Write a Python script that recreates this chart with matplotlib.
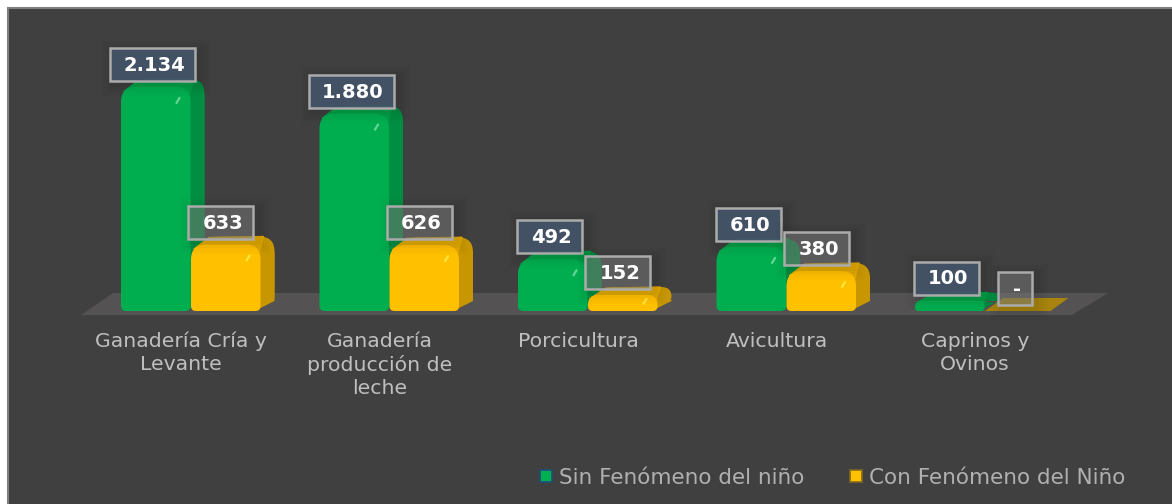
# Grouped pseudo-3D bars, Sin / Con Fenomeno del nino
import matplotlib
matplotlib.use("Agg")
import matplotlib.pyplot as plt
from matplotlib.lines import Line2D
from matplotlib.path import Path
from matplotlib.patches import PathPatch, Polygon, Rectangle

plt.rcParams["font.family"] = "DejaVu Sans"

categories = ["Ganadería Cría y\nLevante", "Ganadería\nproducción de\nleche",
              "Porcicultura", "Avicultura", "Caprinos y\nOvinos"]
sin_fenomeno = [2134, 1880, 492, 610, 100]
con_fenomeno = [633, 626, 152, 380, 0]
series_names = ["Sin Fenómeno del niño", "Con Fenómeno del Niño"]

W, H = 1172, 504
base_px = 311
px_per_unit = 0.105
group_px = 198.5
sx = 1 / group_px
sy = 1 / px_per_unit

GREEN = dict(front="#00AE50", side="#008F42", top="#00A048", spot="#7FE0A8")
YELLOW = dict(front="#FFC000", side="#C79600", top="#E2A900", spot="#FFF04A")

fig = plt.figure(figsize=(W / 100, H / 100), dpi=100, facecolor="white")
fig.add_artist(Rectangle((8 / W, -0.01), 1.02, (H - 8) / H + 0.01, transform=fig.transFigure,
                         facecolor="#404040", edgecolor="#7F7F7F", linewidth=1.5, zorder=-1))

ax = fig.add_axes([0, (H - base_px) / H, 1, base_px / H])
ax.patch.set_visible(False)
ax.set_xlim(-191 * sx, (W - 191) * sx)
ax.set_ylim(0, base_px * sy)
for s in ax.spines.values():
    s.set_visible(False)
ax.get_yaxis().set_visible(False)


def round_box(x0, x1, y0, y1, rt, rb):
    # x in category units, y in value units, radii in pixels
    rxt, ryt = rt * sx, rt * sy
    rxb, ryb = rb * sx, rb * sy
    verts = [(x0 + rxb, y0), (x1 - rxb, y0), (x1, y0), (x1, y0 + ryb),
             (x1, y1 - ryt), (x1, y1), (x1 - rxt, y1),
             (x0 + rxt, y1), (x0, y1), (x0, y1 - ryt),
             (x0, y0 + ryb), (x0, y0), (x0 + rxb, y0), (x0 + rxb, y0)]
    codes = [Path.MOVETO, Path.LINETO, Path.CURVE3, Path.CURVE3,
             Path.LINETO, Path.CURVE3, Path.CURVE3,
             Path.LINETO, Path.CURVE3, Path.CURVE3,
             Path.LINETO, Path.CURVE3, Path.CURVE3, Path.CLOSEPOLY]
    return Path(verts, codes)


def draw_bar(x0, value, colors, z):
    width = 69.5 * sx
    dx, dy = 15 * sx, 10 * sy
    x1 = x0 + width
    if value == 0:
        ax.add_patch(Polygon([(x0, 0), (x1 - 4 * sx, 0), (x1 + 14 * sx, 13 * sy), (x0 + 18 * sx, 13 * sy)],
                             facecolor="#A8840F", edgecolor="none", clip_on=False, zorder=z))
        return
    h_px = value * px_per_unit
    rt = min(15, h_px * 0.6)
    rb = min(5, h_px * 0.3)
    top = value + 8 * sy
    # back silhouette, then the side and top joining it to the front face
    ax.add_patch(PathPatch(round_box(x0 + dx, x1 + dx - 1 * sx, dy, top, rt, rb),
                           facecolor=colors["side"], edgecolor="none", clip_on=False, zorder=z))
    ax.add_patch(Polygon([(x1 - 6 * sx, 0), (x1 + dx - 1 * sx, dy), (x1 + dx - 1 * sx, value - rt * 0.5 * sy),
                          (x1 - 6 * sx, value)],
                         facecolor=colors["side"], edgecolor="none", clip_on=False, zorder=z))
    ax.add_patch(Polygon([(x0 + 3 * sx, value - rt * 0.3 * sy), (x0 + dx + 3 * sx, top - 1 * sy),
                          (x1 + dx - 12 * sx, top), (x1 - 1 * sx, value - rt * 0.5 * sy)],
                         facecolor=colors["top"], edgecolor=colors["top"], linewidth=1,
                         joinstyle="round", clip_on=False, zorder=z))
    ax.add_patch(PathPatch(round_box(x0, x1, 0, value, rt, rb),
                           facecolor=colors["front"], edgecolor="none", clip_on=False, zorder=z))
    if value > 120:
        sy0 = value - min(16, h_px * 0.55) * sy
        ax.plot([x1 - 14 * sx, x1 - 11 * sx], [sy0, sy0 + 5 * sy], color=colors["spot"],
                lw=1.6, alpha=0.8, solid_capstyle="round", zorder=z, clip_on=False)


def draw_label(center, value, box_fc, box_alpha, z):
    text = "-" if value == 0 else f"{value:,}".replace(",", ".")
    w_px = {1: 34, 3: 65, 5: 85}[len(text)]
    x0 = center - w_px / 2 * sx
    y0 = value + 6 * sy
    h = 33 * sy
    # soft shadow
    for grow, a in [(12, 0.015), (9, 0.02), (6, 0.025), (3, 0.03)]:
        ax.add_patch(Rectangle((x0 - grow * sx + 4 * sx, y0 - grow * sy - 3 * sy),
                               (w_px + 2 * grow) * sx, h + 2 * grow * sy, facecolor="black",
                               edgecolor="none", alpha=a, clip_on=False, zorder=z))
    ax.add_patch(Rectangle((x0, y0), w_px * sx, h, facecolor=box_fc, alpha=box_alpha,
                           edgecolor="none", clip_on=False, zorder=z + 0.1))
    ax.add_patch(Rectangle((x0, y0), w_px * sx, h, facecolor="none", edgecolor="#ABABAB",
                           linewidth=1.8, clip_on=False, zorder=z + 0.2))
    ax.text(x0 + (w_px / 2 + 2) * sx, y0 + h / 2 - 1 * sy, text, color="white", fontsize=14, fontweight="bold",
            ha="center", va="center", clip_on=False, zorder=z + 0.3)


# floor
ax.add_patch(Polygon([(-191 * sx + 81 * sx, -4 * sy), (-191 * sx + 1072 * sx, -4 * sy),
                      (-191 * sx + 1108 * sx, 18 * sy), (-191 * sx + 113 * sx, 18 * sy)],
                     facecolor="#545252", edgecolor="none", clip_on=False, zorder=1))

for i in range(len(categories)):
    draw_bar(i - 70 * sx, sin_fenomeno[i], GREEN, 2 + i * 0.01)
    draw_bar(i, con_fenomeno[i], YELLOW, 3 + i * 0.01)

for i in range(len(categories)):
    draw_label(i - 38.5 * sx, sin_fenomeno[i], "#44546A", 0.92, 4)
    draw_label(i + 30 * sx, con_fenomeno[i], "#7F7F7F", 0.5, 5)

ax.set_xticks([i - 10 * sx for i in range(len(categories))])
ax.set_xticklabels(categories, color="#BFBFBF", fontsize=14.7, linespacing=1.27, va="top")
ax.tick_params(axis="x", length=0, pad=15)

handles = [Line2D([], [], linestyle="none", marker="s", markersize=9, markerfacecolor="#00B050",
                  markeredgecolor="#1F4E79", markeredgewidth=1.2),
           Line2D([], [], linestyle="none", marker="s", markersize=9, markerfacecolor="#FFC000",
                  markeredgecolor="#7F6A20", markeredgewidth=1.2)]
ax.legend(handles, series_names, loc="center right", bbox_to_anchor=(1125 / W, (H - 478) / H),
          bbox_transform=fig.transFigure, ncol=2, frameon=False, fontsize=15.5, labelcolor="#B0B0B0",
          handlelength=1, handletextpad=0.1, columnspacing=1.9, borderpad=0, borderaxespad=0)

fig.savefig("out.png", dpi=100, facecolor=fig.get_facecolor())
